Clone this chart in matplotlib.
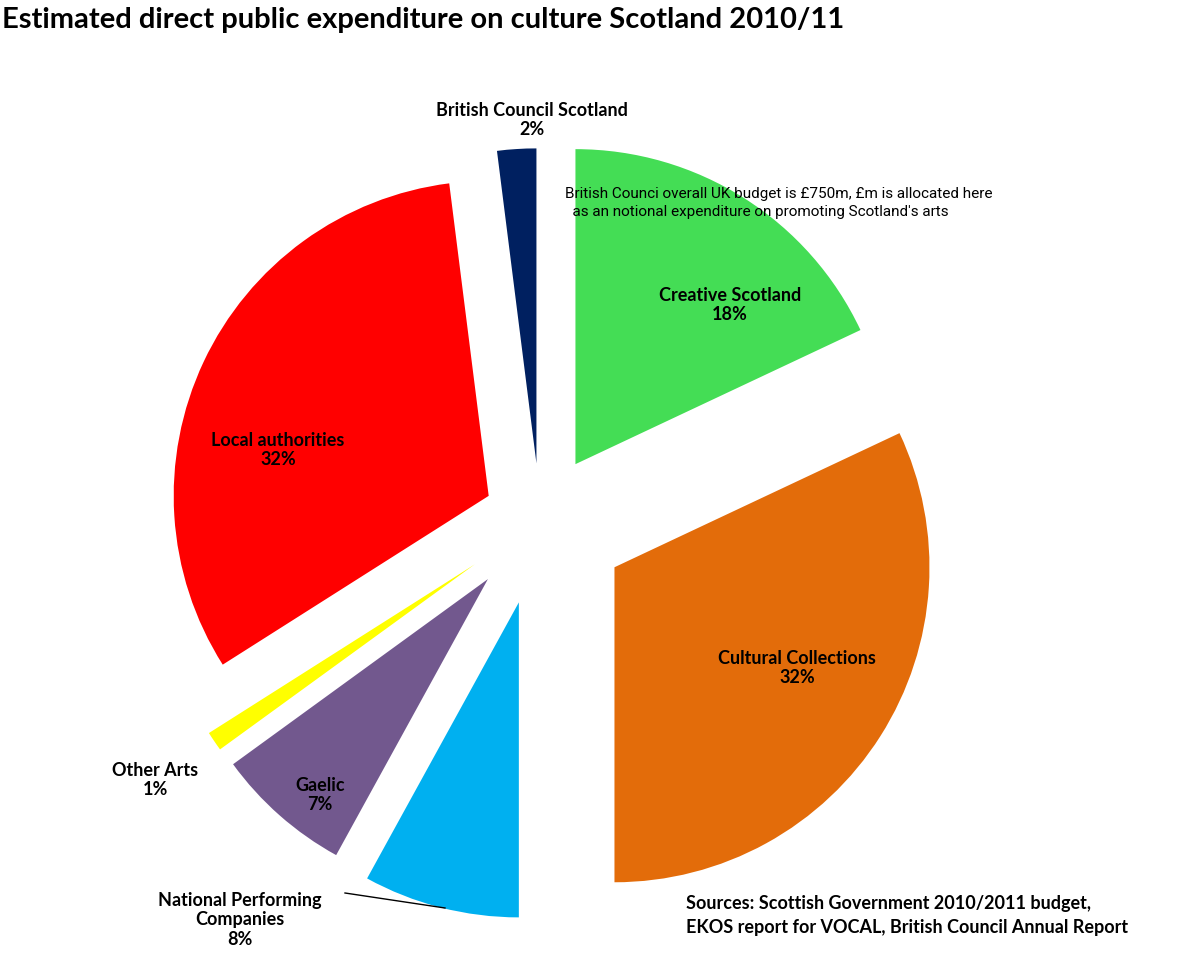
import matplotlib.pyplot as plt

labels = ["Creative Scotland", "Cultural Collections", "National Performing Companies",
          "Gaelic", "Other Arts", "Local authorities", "British Council Scotland"]
shares = [18, 32, 8, 7, 1, 32, 2]
colors = ["#44DD55", "#E36C0A", "#00B0F0", "#72588E", "#FFFF00", "#FF0000", "#002060"]
explode = [0.21, 0.28, 0.27, 0.25, 0.25, 0.18, 0.18]

W, H = 1182, 959
fig = plt.figure(figsize=(W / 100, H / 100), dpi=100)
plt.rcParams['font.family'] = ['Lato', 'DejaVu Sans']

# pie centre at pixel (540, 520), radius 315 px
cx, cy, r = 540, 520, 315
half = 1.5 * r
ax = fig.add_axes([(cx - half) / W, (H - cy - half) / H, 2 * half / W, 2 * half / H])
ax.pie(shares, colors=colors, explode=explode, startangle=90, counterclock=False,
       radius=1)
ax.set_xlim(-1.5, 1.5)
ax.set_ylim(-1.5, 1.5)
ax.set_aspect("equal")
ax.axis("off")


def px(x, y, s, size=13, ha="center", **kw):
    fig.text(x / W, 1 - y / H, s, ha=ha, va="center", fontsize=size,
             fontweight="bold", **kw)


fig.text(2 / W, 1 - 20 / H, "Estimated direct public expenditure on culture Scotland 2010/11",
         ha="left", va="center", fontsize=21, fontweight="bold")

px(730, 305, f"{labels[0]}\n{shares[0]}%")
px(797, 668, f"{labels[1]}\n{shares[1]}%")
px(240, 920, "National Performing\nCompanies\n8%")
px(320, 795, f"{labels[3]}\n{shares[3]}%")
px(155, 780, f"{labels[4]}\n{shares[4]}%")
px(278, 450, f"{labels[5]}\n{shares[5]}%")
px(532, 120, f"{labels[6]}\n{shares[6]}%")

fig.add_artist(plt.Line2D([345 / W, 445 / W], [1 - 893 / H, 1 - 908 / H],
                          color="black", lw=1))

fig.text(565 / W, 1 - 203 / H,
         "British Counci overall UK budget is £750m, £m is allocated here\n"
         "  as an notional expenditure on promoting Scotland's arts",
         ha="left", va="center", fontsize=11, fontstretch="condensed",
         family=["Liberation Sans Narrow", "Roboto", "DejaVu Sans"], linespacing=1.3)

fig.text(686 / W, 1 - 916 / H,
         "Sources: Scottish Government 2010/2011 budget,\n"
         "EKOS report for VOCAL, British Council Annual Report",
         ha="left", va="center", fontsize=13, fontweight="bold", linespacing=1.5)

fig.savefig("out.png", dpi=100)
